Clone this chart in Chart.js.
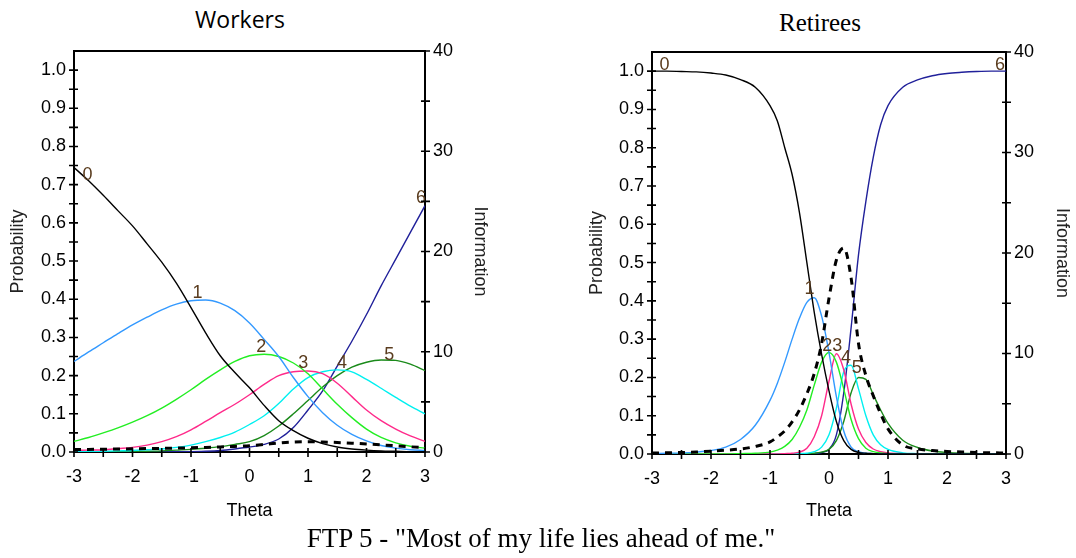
<!DOCTYPE html>
<html>
<head>
<meta charset="utf-8">
<title>FTP 5</title>
<script src="https://cdn.jsdelivr.net/npm/chart.js@4.4.1/dist/chart.umd.min.js"></script>
<style>
  body { margin:0; background:#fff; width:1076px; height:558px; overflow:hidden; position:relative; }
  canvas { position:absolute; top:0; }
  #cvWorkers { left:0; }
  #cvRetirees { left:540px; }
  .ttl { position:absolute; white-space:nowrap; line-height:30px; color:#000; text-align:center; }
  #tWorkers { left:140px; width:200px; top:3px; font:23px "Open Sans", "DejaVu Sans", sans-serif; }
  #tRetirees { left:720px; width:200px; top:9px; font:25px "Liberation Serif", "Times New Roman", serif; }
  #tFooter { left:0; width:1082px; top:523px; font:27px "Liberation Serif", "Times New Roman", serif; }
</style>
</head>
<body>
<div class="ttl" id="tWorkers">Workers</div>
<div class="ttl" id="tRetirees">Retirees</div>
<canvas id="cvWorkers" width="540" height="530"></canvas>
<canvas id="cvRetirees" width="536" height="530"></canvas>
<div class="ttl" id="tFooter">FTP 5 - "Most of my life lies ahead of me."</div>

<script>
// ---------- data ----------
const categories = ['0', '1', '2', '3', '4', '5', '6'];

// Workers: theta grid and category response curves
const thetaW = [-3, -2.75, -2.5, -2.25, -2, -1.75, -1.5, -1.25, -1, -0.75, -0.5, -0.25, 0,
                0.25, 0.5, 0.75, 1, 1.25, 1.5, 1.75, 2, 2.25, 2.5, 2.75, 3];
const workersP0 = [0.745, 0.71, 0.672, 0.632, 0.592, 0.545, 0.497, 0.442, 0.378, 0.312, 0.252, 0.208, 0.168,
                   0.122, 0.082, 0.056, 0.036, 0.022, 0.013, 0.008, 0.005, 0.003, 0.002, 0.001, 0.001];
const workersP1 = [0.237, 0.262, 0.286, 0.31, 0.333, 0.353, 0.372, 0.387, 0.396, 0.398, 0.39, 0.37, 0.338,
                   0.295, 0.25, 0.195, 0.145, 0.103, 0.07, 0.046, 0.029, 0.017, 0.01, 0.006, 0.004];
const workersP2 = [0.028, 0.038, 0.05, 0.063, 0.078, 0.095, 0.115, 0.138, 0.163, 0.19, 0.215, 0.237, 0.252,
                   0.256, 0.25, 0.233, 0.205, 0.165, 0.125, 0.09, 0.06, 0.038, 0.024, 0.015, 0.01];
const workersP3 = [0.004, 0.005, 0.006, 0.009, 0.012, 0.018, 0.027, 0.04, 0.058, 0.08, 0.103, 0.125, 0.15,
                   0.177, 0.2, 0.21, 0.212, 0.205, 0.18, 0.145, 0.11, 0.082, 0.06, 0.042, 0.028];
const workersP4 = [0.001, 0.001, 0.002, 0.003, 0.004, 0.006, 0.008, 0.012, 0.018, 0.027, 0.038, 0.052, 0.072,
                   0.095, 0.127, 0.165, 0.195, 0.21, 0.215, 0.21, 0.19, 0.167, 0.143, 0.12, 0.1];
const workersP5 = [0, 0, 0, 0.001, 0.001, 0.002, 0.003, 0.005, 0.007, 0.01, 0.014, 0.02, 0.027,
                   0.043, 0.068, 0.1, 0.135, 0.17, 0.2, 0.222, 0.235, 0.241, 0.24, 0.23, 0.213];
const workersP6 = [0, 0, 0, 0, 0, 0, 0, 0.001, 0.001, 0.002, 0.004, 0.008, 0.013,
                   0.02, 0.034, 0.064, 0.11, 0.16, 0.225, 0.29, 0.36, 0.435, 0.505, 0.575, 0.645];
const workersInfo = [0.25, 0.26, 0.28, 0.3, 0.32, 0.34, 0.36, 0.39, 0.42, 0.46, 0.5, 0.56, 0.62,
                     0.75, 0.9, 1.0, 1.03, 1.0, 0.95, 0.88, 0.8, 0.71, 0.62, 0.52, 0.42];

// Retirees: finer grid around the middle
const thetaR = [-3, -2.75, -2.5, -2.25, -2, -1.75, -1.5, -1.25, -1, -0.875, -0.75, -0.625, -0.5, -0.375,
                -0.25, -0.125, 0, 0.125, 0.25, 0.375, 0.5, 0.625, 0.75, 0.875, 1, 1.25, 1.5, 1.75, 2,
                2.25, 2.5, 2.75, 3];
const retireesP0 = [1, 1, 0.999, 0.998, 0.995, 0.99, 0.978, 0.958, 0.91, 0.87, 0.8, 0.73, 0.63, 0.5,
                    0.37, 0.26, 0.165, 0.085, 0.035, 0.012, 0.004, 0.002, 0.001, 0, 0, 0, 0, 0, 0,
                    0, 0, 0, 0];
const retireesP1 = [0.001, 0.002, 0.003, 0.005, 0.009, 0.018, 0.038, 0.075, 0.14, 0.185, 0.24, 0.3, 0.355, 0.396,
                    0.408, 0.36, 0.265, 0.15, 0.06, 0.018, 0.006, 0.002, 0.001, 0, 0, 0, 0, 0, 0,
                    0, 0, 0, 0];
const retireesP2 = [0, 0, 0, 0, 0, 0, 0.001, 0.002, 0.005, 0.01, 0.02, 0.038, 0.07, 0.115,
                    0.18, 0.24, 0.265, 0.24, 0.17, 0.09, 0.04, 0.015, 0.006, 0.003, 0.001, 0, 0, 0, 0,
                    0, 0, 0, 0];
const retireesP3 = [0, 0, 0, 0, 0, 0, 0, 0, 0, 0, 0.001, 0.002, 0.005, 0.015,
                    0.045, 0.1, 0.19, 0.262, 0.22, 0.13, 0.065, 0.03, 0.013, 0.006, 0.003, 0.001, 0, 0, 0,
                    0, 0, 0, 0];
const retireesP4 = [0, 0, 0, 0, 0, 0, 0, 0, 0, 0, 0, 0, 0.001, 0.002,
                    0.006, 0.018, 0.05, 0.12, 0.215, 0.232, 0.17, 0.1, 0.05, 0.024, 0.012, 0.003, 0.001, 0, 0,
                    0, 0, 0, 0];
const retireesP5 = [0, 0, 0, 0, 0, 0, 0, 0, 0, 0, 0, 0, 0.001, 0.001,
                    0.002, 0.005, 0.012, 0.035, 0.085, 0.16, 0.2, 0.195, 0.155, 0.115, 0.08, 0.036, 0.017, 0.008, 0.004,
                    0.002, 0.001, 0, 0];
const retireesP6 = [0, 0, 0, 0, 0, 0, 0, 0, 0, 0, 0, 0, 0, 0,
                    0.001, 0.004, 0.012, 0.05, 0.16, 0.33, 0.52, 0.66, 0.775, 0.86, 0.91, 0.958, 0.977, 0.988, 0.994,
                    0.997, 0.999, 1, 1];
const retireesInfo = [0.1, 0.12, 0.15, 0.2, 0.28, 0.38, 0.5, 0.75, 1.2, 1.7, 2.3, 3.2, 4.4, 6.0,
                      8.0, 11.0, 15.5, 19.3, 20.5, 17.5, 11.0, 7.8, 5.8, 4.0, 2.5, 0.9, 0.5, 0.35, 0.25,
                      0.2, 0.15, 0.12, 0.1];

// where each category number sits (theta, probability)
const workersTags = [[-2.77, 0.724], [-0.89, 0.417], [0.2, 0.276], [0.92, 0.234], [1.58, 0.234], [2.39, 0.255], [2.93, 0.665]];
const retireesTags = [[-2.79, 1.016], [-0.33, 0.43], [-0.03, 0.283], [0.14, 0.283], [0.29, 0.25], [0.47, 0.225], [2.9, 1.016]];

// ---------- styling ----------
const curveColors = ['#000000', '#3399ff', '#22ee22', '#ff2a8a', '#00f0f0', '#1a8a1a', '#20209a'];
const tagColor = '#5a3c1e';
const axisFont = { family: '"Liberation Sans", Arial, sans-serif', size: 18 };

// ---------- plugins ----------
// top border + tick marks that cross the axis lines
const frameTicks = {
  id: 'frameTicks',
  afterDraw(chart) {
    const { ctx, chartArea: a, scales } = chart;
    ctx.save();
    ctx.strokeStyle = '#000';
    ctx.lineWidth = 2;
    ctx.beginPath();
    ctx.moveTo(a.left - 1, a.top);
    ctx.lineTo(a.right + 1, a.top);
    ctx.stroke();
    ctx.lineWidth = 1.6;
    ctx.beginPath();
    scales.x.ticks.forEach(t => {
      const px = scales.x.getPixelForValue(t.value);
      ctx.moveTo(px, a.bottom - 4); ctx.lineTo(px, a.bottom + 5);
    });
    scales.y.ticks.forEach(t => {
      if (t.value > 1.0001) return;
      const py = scales.y.getPixelForValue(t.value);
      ctx.moveTo(a.left - 5, py); ctx.lineTo(a.left + 4, py);
    });
    scales.yInfo.ticks.forEach(t => {
      const py = scales.yInfo.getPixelForValue(t.value);
      ctx.moveTo(a.right - 4, py); ctx.lineTo(a.right + 5, py);
    });
    ctx.stroke();
    ctx.restore();
  }
};

// category numbers next to the curves
const curveTags = {
  id: 'curveTags',
  afterDatasetsDraw(chart, args, opts) {
    const { ctx, scales: { x, y } } = chart;
    ctx.save();
    ctx.font = '18px "Liberation Sans", Arial, sans-serif';
    ctx.fillStyle = tagColor;
    ctx.textAlign = 'center';
    ctx.textBaseline = 'middle';
    opts.tags.forEach((t, i) => ctx.fillText(categories[i], x.getPixelForValue(t[0]), y.getPixelForValue(t[1])));
    ctx.restore();
  }
};

// ---------- chart builder ----------
function curve(label, theta, values, color) {
  return {
    label, yAxisID: 'y', order: 2,
    data: theta.map((t, i) => ({ x: t, y: values[i] })),
    borderColor: color, borderWidth: 1.4, pointRadius: 0,
    cubicInterpolationMode: 'monotone', fill: false
  };
}

function makeChart(id, theta, probs, info, tags, box) {
  const datasets = probs.map((p, i) => curve(categories[i], theta, p, curveColors[i]));
  datasets.push({
    label: 'Information', yAxisID: 'yInfo', order: 1,
    data: theta.map((t, i) => ({ x: t, y: info[i] })),
    borderColor: '#000', borderWidth: 3, borderDash: [7, 6], pointRadius: 0,
    cubicInterpolationMode: 'monotone', fill: false
  });

  return new Chart(document.getElementById(id), {
    type: 'line',
    data: { datasets },
    plugins: [frameTicks, curveTags],
    options: {
      responsive: false,
      animation: false,
      layout: { padding: { top: box.top, left: 0, right: 0, bottom: 0 } },
      plugins: {
        legend: { display: false },
        tooltip: { enabled: false },
        curveTags: { tags }
      },
      scales: {
        x: {
          type: 'linear', min: -3, max: 3,
          grid: { display: false, drawTicks: false },
          border: { display: true, color: '#000', width: 2 },
          ticks: {
            stepSize: 0.5, autoSkip: false, maxRotation: 0, padding: 14,
            color: '#000', font: axisFont,
            callback: v => Number.isInteger(v) ? String(v) : ''
          },
          title: { display: true, text: 'Theta', color: '#000', font: axisFont, padding: { top: 0, bottom: 8 } },
          afterFit: s => { s.height = box.bottom; }
        },
        y: {
          position: 'left', min: 0, max: 1.05,
          grid: { display: false, drawTicks: false },
          border: { display: true, color: '#000', width: 2 },
          ticks: {
            stepSize: 0.05, autoSkip: false, padding: 8,
            color: '#000', font: axisFont,
            callback: v => Math.abs(v * 10 - Math.round(v * 10)) < 1e-6 ? v.toFixed(1) : ''
          },
          title: { display: true, text: 'Probability', color: '#222', font: axisFont, padding: { top: box.leftTitle, bottom: 0 } },
          afterFit: s => { s.width = box.left; }
        },
        yInfo: {
          position: 'right', min: 0, max: 40,
          grid: { display: false, drawTicks: false },
          border: { display: true, color: '#000', width: 2 },
          ticks: {
            stepSize: 5, autoSkip: false, padding: 8,
            color: '#000', font: axisFont,
            callback: v => v % 10 === 0 ? String(v) : ''
          },
          title: { display: true, text: 'Information', color: '#222', font: axisFont, padding: { top: box.rightTitle, bottom: 0 } },
          afterFit: s => { s.width = box.right; }
        }
      }
    }
  });
}

makeChart('cvWorkers', thetaW,
  [workersP0, workersP1, workersP2, workersP3, workersP4, workersP5, workersP6],
  workersInfo, workersTags,
  { top: 51, bottom: 78, left: 74, right: 115, leftTitle: 7, rightTitle: 49 });

makeChart('cvRetirees', thetaR,
  [retireesP0, retireesP1, retireesP2, retireesP3, retireesP4, retireesP5, retireesP6],
  retireesInfo, retireesTags,
  { top: 52, bottom: 76, left: 112, right: 70, leftTitle: 46, rightTitle: 3 });
</script>
</body>
</html>
